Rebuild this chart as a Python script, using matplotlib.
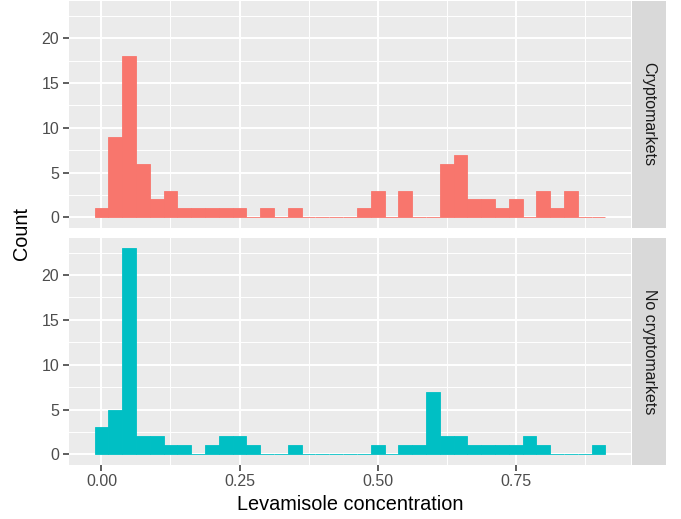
import numpy as np
import matplotlib
matplotlib.use("Agg")
import matplotlib.pyplot as plt
from matplotlib.ticker import MultipleLocator

plt.rcParams['font.family'] = ['Liberation Sans', 'DejaVu Sans']

# histogram counts, binwidth 0.025, bins centred on 0, 0.025, ... 0.9
bin_width = 0.025
crypto_counts = [1, 9, 18, 6, 2, 3, 1, 1, 1, 1, 1, 0, 1, 0, 1, 0, 0, 0, 0,
                 1, 3, 0, 3, 0, 0, 6, 7, 2, 2, 1, 2, 0, 3, 1, 3, 0, 0]
nocrypto_counts = [3, 5, 23, 2, 2, 1, 1, 0, 1, 2, 2, 1, 0, 0, 1, 0, 0, 0, 0,
                   0, 1, 0, 1, 1, 7, 2, 2, 1, 1, 1, 1, 2, 1, 0, 0, 0, 1]
panels = ["Cryptomarkets", "No cryptomarkets"]
colors = ["#F8766D", "#00BFC4"]
x_ticks = [0.0, 0.25, 0.5, 0.75]
x_labels = ["0.00", "0.25", "0.50", "0.75"]
y_ticks = [0, 5, 10, 15, 20]

W, H = 681, 519
fig = plt.figure(figsize=(W / 100, H / 100), dpi=100)

centers = np.arange(len(crypto_counts)) * bin_width
xmin = centers[0] - bin_width / 2
xmax = centers[-1] + bin_width / 2
xpad = 0.05 * (xmax - xmin)
ymax = max(max(crypto_counts), max(nocrypto_counts))
ypad = 0.05 * ymax

left, right = 69, 631
strip_w = 34
boxes = [(1, 227.7), (237.7, 464.7)]

for i, (counts, name, col) in enumerate(zip([crypto_counts, nocrypto_counts], panels, colors)):
    top, bot = boxes[i]
    ax = fig.add_axes([left / W, (H - bot) / H, (right - left) / W, (bot - top) / H])
    ax.set_facecolor("#EBEBEB")
    ax.bar(centers, counts, width=bin_width, color=col, edgecolor=col, linewidth=0.6, zorder=3)
    ax.set_xlim(xmin - xpad, xmax + xpad)
    ax.set_ylim(-ypad, ymax + ypad)
    ax.xaxis.set_major_locator(plt.FixedLocator(x_ticks))
    ax.xaxis.set_minor_locator(MultipleLocator(0.125))
    ax.yaxis.set_major_locator(plt.FixedLocator(y_ticks))
    ax.yaxis.set_minor_locator(MultipleLocator(2.5))
    ax.grid(which="major", color="white", linewidth=1.4, zorder=0)
    ax.grid(which="minor", color="white", linewidth=0.7, zorder=0)
    ax.set_axisbelow(True)
    for s in ax.spines.values():
        s.set_visible(False)
    ax.tick_params(which="minor", length=0)
    ax.tick_params(which="major", length=4, width=1.1, color="#333333",
                   labelcolor="#4D4D4D", labelsize=11.5, pad=3)
    ax.set_yticklabels([str(t) for t in y_ticks])
    if i == 0:
        ax.tick_params(axis="x", which="both", bottom=False, labelbottom=False)
    else:
        ax.set_xticklabels(x_labels)

    # facet strip on the right
    sax = fig.add_axes([(right + 1) / W, (H - bot) / H, strip_w / W, (bot - top) / H])
    sax.set_facecolor("#D9D9D9")
    sax.set_xticks([])
    sax.set_yticks([])
    for s in sax.spines.values():
        s.set_visible(False)
    sax.text(0.5, 0.5, name, rotation=-90, ha="center", va="center",
             fontsize=11.5, color="#1A1A1A", transform=sax.transAxes)

fig.text((left + right) / 2 / W, 1 - 504 / H, "Levamisole concentration",
         ha="center", va="center", fontsize=14.3, color="black")
fig.text(22 / W, 1 - 233 / H, "Count", ha="center", va="center",
         rotation=90, fontsize=14.3, color="black")

fig.savefig("out.png", dpi=100)
